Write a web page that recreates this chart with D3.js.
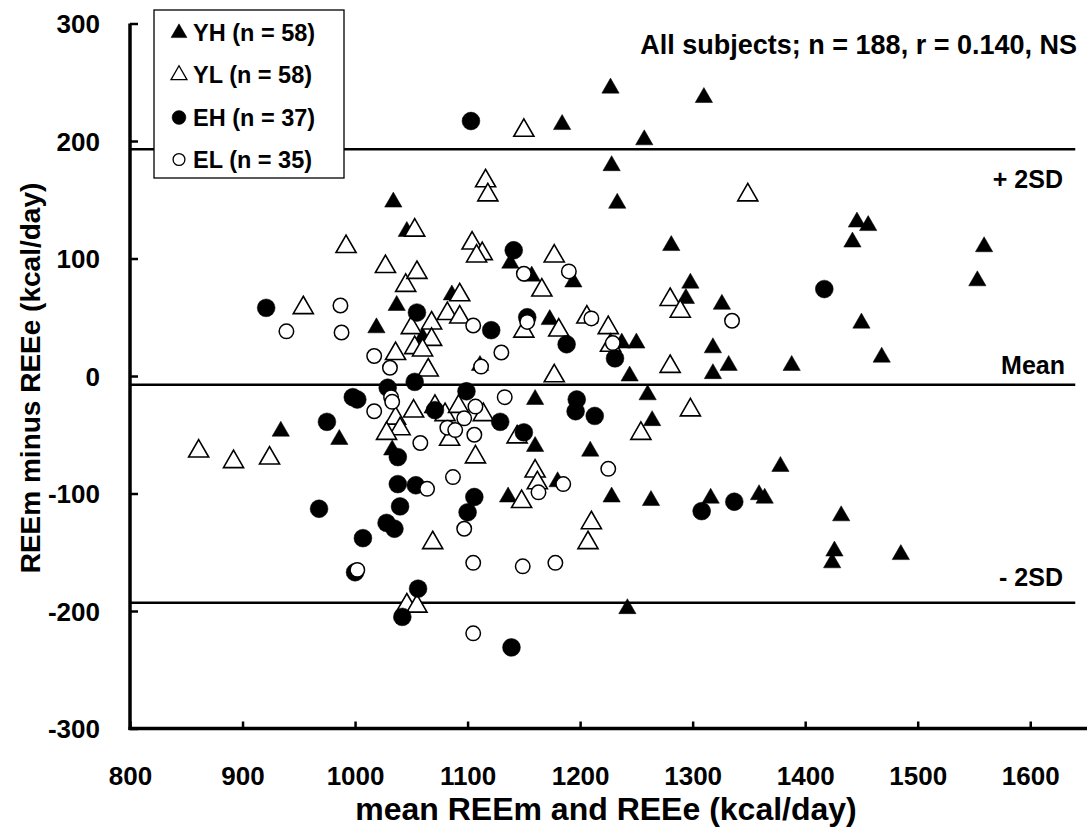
<!DOCTYPE html>
<html>
<head>
<meta charset="utf-8">
<script src="https://cdn.jsdelivr.net/npm/d3@7"></script>
<style>
  html, body { margin: 0; padding: 0; background: #fff; }
  svg { display: block; }
  text { font-family: "Liberation Sans", Arial, sans-serif; font-weight: bold; fill: #000; }
</style>
</head>
<body>
<svg id="chart" width="1087" height="835"></svg>
<script>
// ---- data (kcal/day) ----
const xTicks = [800, 900, 1000, 1100, 1200, 1300, 1400, 1500, 1600];
const yTicks = [-300, -200, -100, 0, 100, 200, 300];

const refLines = [
  { value: 193, label: "+ 2SD" },
  { value: -7.5, label: "Mean" },
  { value: -193, label: "- 2SD" }
];

const YH = [[1034,148],[1046,123],[1037,60],[1019,41],[934,-47],[986,-54],[1033,-63],[1227,245],[1310,237],[1184,214],[1257,201],[1228,179],[1233,147],[1281,111],[1138,96],[1157,85],[1194,80],[1086,69],[1298,79],[1294,66],[1326,61],[1060,33],[1173,48],[1237,28],[1250,28],[1318,24],[1318,2],[1111,9],[1244,0],[1160,-20],[1260,-16],[1264,-38],[1160,-60],[1209,-64],[1180,-90],[1136,-103],[1228,-103],[1263,-106],[1316,-104],[1242,-198],[1450,45],[1446,131],[1456,128],[1442,114],[1559,110],[1553,81],[1468,16],[1388,9],[1332,9],[1378,-77],[1359,-101],[1364,-104],[1432,-119],[1426,-149],[1424,-159],[1485,-152]];

const YL = [[1053,124],[992,110],[1027,93],[1045,77],[1055,88],[954,58],[1050,41],[1036,19],[1053,24],[1052,-30],[1036,-36],[1040,-45],[1028,-49],[861,-64],[892,-73],[924,-70],[1046,-195],[1055,-196],[1150,209],[1116,166],[1118,154],[1349,154],[1104,113],[1113,104],[1108,102],[1177,102],[1166,73],[1093,69],[1280,65],[1289,55],[1082,53],[1068,45],[1093,50],[1068,31],[1060,22],[1150,38],[1181,39],[1206,50],[1225,41],[1227,26],[1280,8],[1065,5],[1177,0],[1298,-29],[1254,-49],[1071,-26],[1080,-33],[1092,-26],[1114,-33],[1084,-54],[1144,-52],[1107,-69],[1160,-81],[1162,-91],[1148,-107],[1210,-125],[1207,-142],[1069,-142]];

const EH = [[1055,54],[921,58],[1053,-5],[998,-18],[1002,-20],[1029,-10],[975,-39],[1038,-69],[1038,-92],[1054,-93],[968,-113],[1040,-111],[1028,-125],[1035,-130],[1007,-138],[1000,-167],[1056,-181],[1042,-205],[1103,217],[1141,107],[1121,39],[1153,50],[1188,27],[1231,15],[1099,-13],[1197,-20],[1196,-30],[1213,-34],[1071,-29],[1129,-39],[1150,-48],[1106,-103],[1100,-116],[1139,-231],[1417,74],[1308,-115],[1337,-107]];

const EL = [[987,60],[939,38],[988,37],[1017,17],[1031,7],[1032,-18],[1017,-30],[1033,-22],[1058,-57],[1002,-165],[1190,89],[1150,87],[1153,46],[1105,43],[1130,20],[1210,49],[1229,28],[1112,8],[1133,-18],[1107,-26],[1097,-36],[1082,-44],[1089,-46],[1106,-50],[1225,-79],[1163,-99],[1185,-92],[1087,-86],[1064,-96],[1097,-130],[1105,-159],[1149,-162],[1178,-159],[1105,-219],[1335,47]];

const seriesNames = ["YH (n = 58)", "YL (n = 58)", "EH (n = 37)", "EL (n = 35)"];
const titleText = "All subjects; n = 188, r = 0.140, NS";

// ---- drawing ----
const svg = d3.select("#chart");
svg.append("rect").attr("width", 1087).attr("height", 835).attr("fill", "#fff");

const x = d3.scaleLinear().domain([800, 1650]).range([130, 1086.5]);
const y = d3.scaleLinear().domain([-300, 300]).range([728.5, 23.5]);
const fmt = d => String(d);

// reference lines
const refG = svg.append("g");
refLines.forEach(r => {
  refG.append("line")
    .attr("x1", x(800)).attr("x2", x(1640))
    .attr("y1", y(r.value)).attr("y2", y(r.value))
    .attr("stroke", "#000").attr("stroke-width", 2.5);
});
refG.append("text").attr("x", 1063).attr("y", 188).attr("text-anchor", "end")
  .attr("font-size", 25).text(refLines[0].label);
refG.append("text").attr("x", 1065).attr("y", 374).attr("text-anchor", "end")
  .attr("font-size", 25).text(refLines[1].label);
refG.append("text").attr("x", 1063).attr("y", 586).attr("text-anchor", "end")
  .attr("font-size", 25).text(refLines[2].label);

// axes
const xAxis = d3.axisBottom(x).tickValues(xTicks).tickFormat(fmt).tickSizeInner(-7).tickSizeOuter(0).tickPadding(0);
const gx = svg.append("g").attr("transform", `translate(0,${y(-300)})`).call(xAxis);
gx.select(".domain").attr("stroke-width", 3.5).attr("d", `M${x(800)-1.5},0H1087`);
gx.selectAll(".tick line").attr("stroke-width", 2.5);
gx.selectAll(".tick text").attr("font-size", 26).attr("y", 56).attr("dy", 0)
  .style("font-family", '"Liberation Sans", Arial, sans-serif').style("font-weight", "bold");

const yAxis = d3.axisLeft(y).tickValues(yTicks).tickFormat(fmt).tickSizeInner(-8).tickSizeOuter(0).tickPadding(30);
const gy = svg.append("g").attr("transform", `translate(${x(800)},0)`).call(yAxis);
gy.select(".domain").attr("stroke-width", 3.5).attr("d", `M0,${y(300)}V${y(-300)+1.5}`);
gy.selectAll(".tick line").attr("stroke-width", 2.5);
gy.selectAll(".tick text").attr("font-size", 26).attr("dy", "0.36em")
  .style("font-family", '"Liberation Sans", Arial, sans-serif').style("font-weight", "bold");
svg.selectAll(".tick text").attr("fill", "#000");

// axis titles
svg.append("text").attr("x", 606).attr("y", 820).attr("text-anchor", "middle")
  .attr("font-size", 32).text("mean REEm and REEe (kcal/day)");
svg.append("text").attr("transform", "translate(40,378) rotate(-90)").attr("text-anchor", "middle")
  .attr("font-size", 28).text("REEm minus REEe (kcal/day)");

// title
svg.append("text").attr("x", 1077).attr("y", 54).attr("text-anchor", "end")
  .attr("font-size", 27).text(titleText);

// markers
const styles = [
  { data: YH, type: d3.symbolTriangle, size: 130, fill: "#000", stroke: "#000", sw: 0.5 },
  { data: YL, type: d3.symbolTriangle, size: 175, fill: "#fff", stroke: "#000", sw: 1.6 },
  { data: EH, type: d3.symbolCircle, size: 250, fill: "#000", stroke: "#000", sw: 0.5 },
  { data: EL, type: d3.symbolCircle, size: 165, fill: "#fff", stroke: "#000", sw: 1.5 }
];
styles.forEach(s => {
  const sym = d3.symbol().type(s.type).size(s.size);
  svg.append("g").selectAll("path").data(s.data).join("path")
    .attr("d", sym)
    .attr("transform", d => `translate(${x(d[0])},${y(d[1])})`)
    .attr("fill", s.fill).attr("stroke", s.stroke).attr("stroke-width", s.sw);
});

// legend
const lg = svg.append("g");
lg.append("rect").attr("x", 154).attr("y", 10).attr("width", 190).attr("height", 168)
  .attr("fill", "#fff").attr("stroke", "#000").attr("stroke-width", 1.3);
const legRows = [41, 83, 125.5, 167.5];
const legSizes = [110, 110, 150, 110];
styles.forEach((s, i) => {
  const sym = d3.symbol().type(s.type).size(legSizes[i]);
  lg.append("path").attr("d", sym)
    .attr("transform", `translate(179,${legRows[i] - 8})`)
    .attr("fill", s.fill).attr("stroke", "#000").attr("stroke-width", i % 2 ? 1.3 : 0.5);
  lg.append("text").attr("x", 193).attr("y", legRows[i]).attr("font-size", 23.5)
    .text(seriesNames[i]);
});
</script>
</body>
</html>
